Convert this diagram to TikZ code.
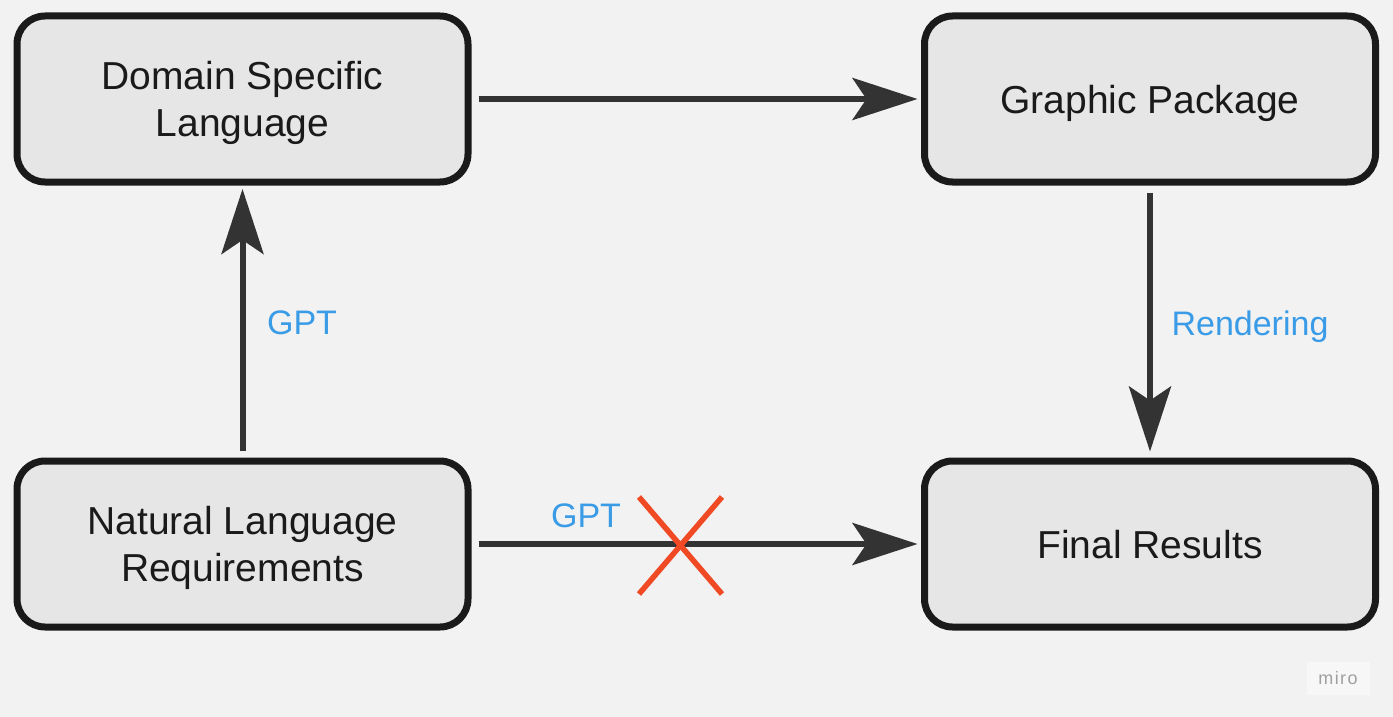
\documentclass[tikz,border=0pt]{standalone}
\usepackage{fontspec}
\setmainfont{Liberation Sans}
\usetikzlibrary{arrows.meta}
\definecolor{bg}{HTML}{F2F2F2}
\definecolor{boxfill}{HTML}{E6E6E6}
\definecolor{boxline}{HTML}{1A1A1A}
\definecolor{arrowc}{HTML}{333333}
\definecolor{lblue}{HTML}{3A9BE6}
\definecolor{xred}{HTML}{F04A25}
\definecolor{mirogray}{HTML}{A0A0A0}
\definecolor{mirobox}{HTML}{F7F7F7}
\tikzset{
  stepbox/.style={draw=boxline, fill=boxfill, line width=7pt, rounded corners=28pt,
    minimum width=451pt, minimum height=166pt, align=center, text=boxline,
    text depth=0pt, font=\fontsize{39}{47}\selectfont},
  arr/.style={draw=arrowc, line width=6pt,
    -{Stealth[length=65pt, width=42pt, inset=14pt]}},
  lbl/.style={text=lblue, font=\fontsize{34}{40}\selectfont, inner sep=0pt, text depth=0pt},
  crossline/.style={draw=xred, line width=5.5pt}
}
\begin{document}
\begin{tikzpicture}[x=1pt, y=-1pt]
\useasboundingbox[fill=bg] (0,0) rectangle (1393,717);
\node[stepbox] (dsl) at (242.5,99) {Domain Specific\\Language};
\node[stepbox] (gp) at (1150,99) {Graphic Package};
\node[stepbox] (nlr) at (242.5,544) {Natural Language\\Requirements};
\node[stepbox] (fr) at (1150,544) {Final Results};
\draw[arr] ([xshift=7pt]dsl.east) -- ([xshift=-3.5pt]gp.west);
\draw[arr] ([yshift=7pt]nlr.north) -- ([yshift=-3.5pt]dsl.south);
\draw[arr] ([yshift=-7pt]gp.south) -- ([yshift=6pt]fr.north);
\draw[arr] ([xshift=7pt]nlr.east) -- ([xshift=-3.5pt]fr.west);
\node[lbl] (gpt1) at (302,323) {GPT};
\node[lbl] (rend) at (1250,323) {Rendering};
\node[lbl] (gpt2) at (586,516) {GPT};
\draw[crossline] (639,497) -- (722,594);
\draw[crossline] (722,497) -- (639,594);
\fill[mirobox] (1307,662) rectangle (1370,695);
\node[text=mirogray, font=\fontsize{18}{20}\selectfont\addfontfeature{LetterSpace=8}] (miro) at (1338,678) {miro};
\end{tikzpicture}
\end{document}
